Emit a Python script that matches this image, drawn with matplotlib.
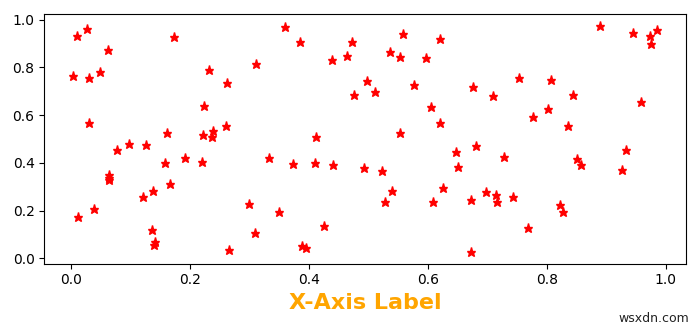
import matplotlib
matplotlib.use("Agg")
import matplotlib.pyplot as plt

x_vals = [0.0034, 0.0096, 0.0269, 0.0291, 0.0291, 0.0113, 0.0374, 0.0487, 0.0616, 0.0626,
          0.0626, 0.0631, 0.0761, 0.0974, 0.1197, 0.1259, 0.1355, 0.1365, 0.1399, 0.1382,
          0.1567, 0.1607, 0.1651, 0.1725, 0.1909, 0.2195, 0.2225, 0.2212, 0.2309, 0.2390,
          0.2360, 0.2603, 0.2625, 0.2653, 0.2984, 0.3107, 0.3095, 0.3325, 0.3493, 0.3594,
          0.3733, 0.3840, 0.3874, 0.3946, 0.4109, 0.4092, 0.4249, 0.4378, 0.4405, 0.4640,
          0.4724, 0.4747, 0.4925, 0.4966, 0.5110, 0.5223, 0.5268, 0.5362, 0.5395, 0.5536,
          0.5536, 0.5580, 0.5772, 0.5973, 0.6045, 0.6084, 0.6208, 0.6208, 0.6247, 0.6477,
          0.6504, 0.6729, 0.6717, 0.6756, 0.6806, 0.6974, 0.7087, 0.7142, 0.7165, 0.7271,
          0.7434, 0.7528, 0.7679, 0.7763, 0.8015, 0.8077, 0.8228, 0.8279, 0.8358, 0.8435,
          0.8502, 0.8576, 0.8888, 0.9264, 0.9325, 0.9454, 0.9584, 0.9740, 0.9756, 0.9845]
y_vals = [0.763, 0.930, 0.959, 0.756, 0.567, 0.174, 0.205, 0.779, 0.873, 0.349,
          0.337, 0.328, 0.454, 0.478, 0.259, 0.474, 0.118, 0.283, 0.068, 0.057,
          0.400, 0.524, 0.310, 0.927, 0.420, 0.404, 0.638, 0.515, 0.791, 0.534,
          0.508, 0.554, 0.736, 0.036, 0.227, 0.814, 0.107, 0.420, 0.192, 0.971,
          0.395, 0.905, 0.053, 0.043, 0.509, 0.400, 0.134, 0.831, 0.392, 0.846,
          0.908, 0.683, 0.377, 0.745, 0.697, 0.365, 0.236, 0.866, 0.283, 0.842,
          0.526, 0.938, 0.725, 0.838, 0.632, 0.236, 0.921, 0.569, 0.295, 0.444,
          0.383, 0.243, 0.025, 0.717, 0.470, 0.276, 0.679, 0.264, 0.237, 0.423,
          0.256, 0.757, 0.127, 0.591, 0.626, 0.747, 0.222, 0.195, 0.556, 0.686,
          0.415, 0.392, 0.975, 0.369, 0.454, 0.943, 0.657, 0.930, 0.900, 0.958]

x_label = "X-Axis Label"
watermark = "wsxdn.com"

fig = plt.figure(figsize=(7.0, 3.27), dpi=100)
ax = fig.add_axes([0.0633, 0.1936, 0.9163, 0.7627])
ax.plot(x_vals, y_vals, linestyle="none", marker="*", color="red", markersize=6.5)
ax.set_xticks([0.0, 0.2, 0.4, 0.6, 0.8, 1.0])
ax.set_yticks([0.0, 0.2, 0.4, 0.6, 0.8, 1.0])
ax.set_xlabel(x_label, color="orange", fontsize=16, fontweight="bold", labelpad=4)
fig.text(0.985, 0.005, watermark, ha="right", va="bottom", fontsize=9, color="#222222")
fig.savefig("out.png", dpi=100)
